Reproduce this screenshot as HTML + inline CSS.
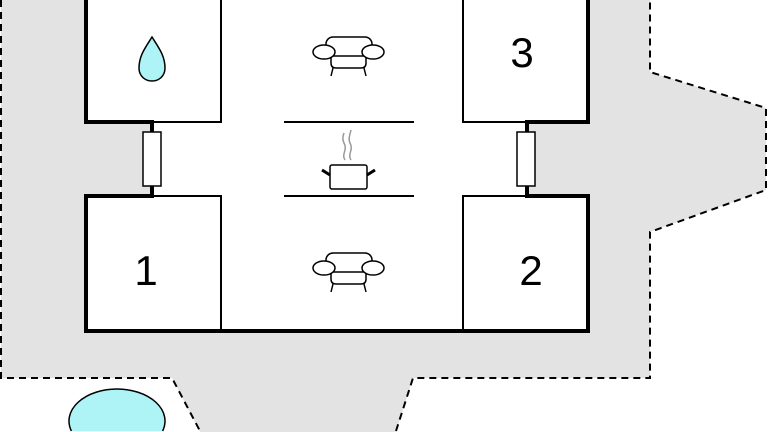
<!DOCTYPE html>
<html><head><style>html,body{margin:0;padding:0;background:#fff;width:768px;height:432px;overflow:hidden}svg{display:block;overflow:hidden}</style></head><body>
<svg width="768" height="432" viewBox="0 0 768 432" xmlns="http://www.w3.org/2000/svg">
<polygon points="1,0 650,0 650,72 766,108 766,190 650,232 650,378 413,378 396,432 200,432 172,378 1,378" fill="#e3e3e3"/>
<g fill="none" stroke="#000" stroke-width="2" stroke-dasharray="7,5">
<polyline points="1,0 1,378 172,378 200,431"/>
<polyline points="396,431 413,378 650,378 650,232 766,190 766,108 650,72 650,0"/>
</g>
<rect x="85" y="0" width="503" height="331" fill="#fff"/>
<rect x="85" y="122" width="67" height="74" fill="#e3e3e3"/>
<rect x="527" y="122" width="61" height="74" fill="#e3e3e3"/>
<g stroke="#000" fill="none" stroke-width="2">
<polyline points="221,0 221,122 85,122"/>
<polyline points="463,0 463,122 588,122"/>
<polyline points="85,196 221,196 221,331"/>
<polyline points="588,196 463,196 463,331"/>
<line x1="284" y1="122" x2="414" y2="122"/>
<line x1="284" y1="196" x2="414" y2="196"/>
<polyline points="86,0 86,122 152,122 152,196 86,196 86,331 588,331 588,196 527,196 527,122 588,122 588,0" stroke-width="4"/>
</g>
<rect x="143" y="132" width="18" height="54" fill="#fff" stroke="#000" stroke-width="1.5"/>
<rect x="517" y="132" width="18" height="54" fill="#fff" stroke="#000" stroke-width="1.5"/>
<path d="M152,37 C145,48 139,56 139,68 C139,76 145,81 152,81 C159,81 165,76 165,68 C165,56 159,48 152,37Z" fill="#aef4f6" stroke="#000" stroke-width="1.5"/>
<path d="M71.4,431 A48,32 0 1 1 162.6,431" fill="#aef4f6" stroke="#000" stroke-width="1.5"/>
<g id="sofa" fill="#fff" stroke="#000" stroke-width="1.5">
<path d="M331,56 L331,63 Q331,68 336,68 L361,68 Q366,68 366,63 L366,56"/>
<rect x="326" y="37" width="46" height="19" rx="7"/>
<line x1="333" y1="68" x2="331" y2="76"/><line x1="364" y1="68" x2="366" y2="76"/>
<ellipse cx="324" cy="52" rx="11" ry="7"/><ellipse cx="373" cy="52" rx="11" ry="7"/>
</g>
<use href="#sofa" y="216"/>
<g stroke="#000" stroke-width="1.5" fill="#fff">
<rect x="330" y="165" width="37" height="24" rx="2"/>
<line x1="330" y1="175" x2="322" y2="170" stroke-width="3"/>
<line x1="367" y1="175" x2="375" y2="170" stroke-width="3"/>
</g>
<g stroke="#999" stroke-width="1.5" fill="none">
<path d="M345,160 C341,154 348,150 344,143 C342,139 343,136 344,133"/>
<path d="M351,160 C347,154 354,150 350,143 C348,139 350,134 351,130"/>
</g>
<g font-family="Liberation Sans, sans-serif" font-size="42" text-anchor="middle" fill="#000">
<text x="522" y="67">3</text>
<text x="146" y="285">1</text>
<text x="531" y="285">2</text>
</g>
</svg>
</body></html>
